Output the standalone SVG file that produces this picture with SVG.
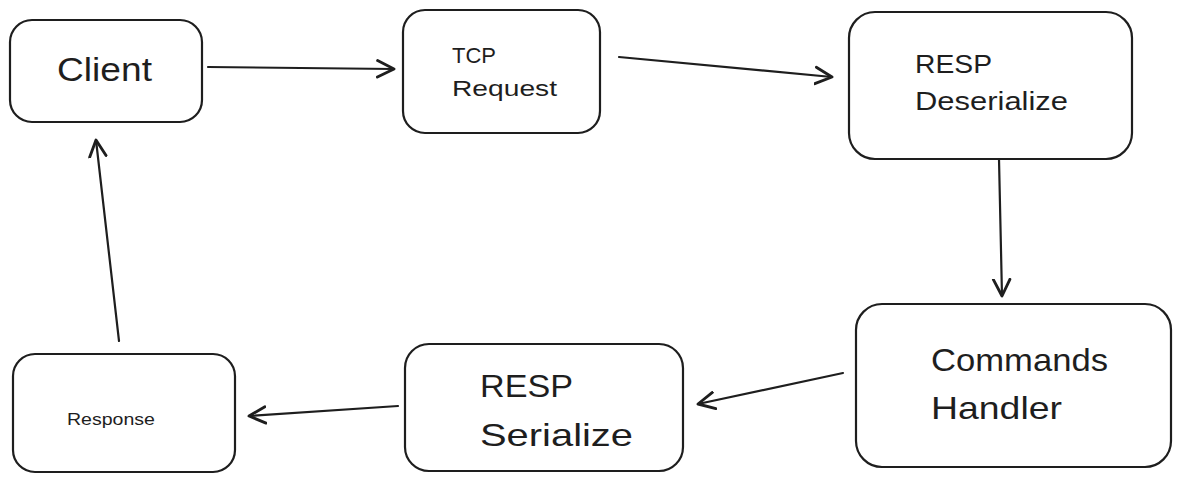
<svg xmlns="http://www.w3.org/2000/svg" width="1181" height="482" viewBox="0 0 1181 482">
<defs>
<style>
.box{fill:#fff;stroke:#1e1e1e;stroke-width:2.2}
.lbl{font-family:"Liberation Sans",Arial,sans-serif;fill:#1e1e1e}
.edge{fill:none;stroke:#1e1e1e;stroke-width:2.2;stroke-linecap:round}
</style>
<marker id="ah" markerUnits="userSpaceOnUse" markerWidth="22" markerHeight="22" refX="16" refY="10" orient="auto" viewBox="0 0 20 20">
<path d="M1,2.5 L16,10 L1,17.5" fill="none" stroke="#1e1e1e" stroke-width="2.6" stroke-linecap="round" stroke-linejoin="round"/>
</marker>
</defs>
<rect width="1181" height="482" fill="#fff"/>
<g id="client">
<rect class="box" x="10" y="20" width="192" height="102" rx="22"/>
<text class="lbl" x="57" y="81" font-size="33" textLength="95" lengthAdjust="spacingAndGlyphs">Client</text>
</g>
<g id="tcp-request">
<rect class="box" x="403" y="10" width="197" height="123" rx="22"/>
<text class="lbl" x="452" y="63" font-size="22">TCP</text>
<text class="lbl" x="452" y="96" font-size="22" textLength="105" lengthAdjust="spacingAndGlyphs">Request</text>
</g>
<g id="resp-deserialize">
<rect class="box" x="849" y="12" width="283" height="147" rx="26"/>
<text class="lbl" x="915" y="73" font-size="26" textLength="77" lengthAdjust="spacingAndGlyphs">RESP</text>
<text class="lbl" x="915" y="110" font-size="26" textLength="153" lengthAdjust="spacingAndGlyphs">Deserialize</text>
</g>
<g id="commands-handler">
<rect class="box" x="856" y="304" width="315" height="163" rx="26"/>
<text class="lbl" x="931" y="371" font-size="32" textLength="177" lengthAdjust="spacingAndGlyphs">Commands</text>
<text class="lbl" x="931" y="419" font-size="32" textLength="131" lengthAdjust="spacingAndGlyphs">Handler</text>
</g>
<g id="resp-serialize">
<rect class="box" x="405" y="344" width="278" height="127" rx="24"/>
<text class="lbl" x="480" y="397" font-size="32" textLength="93" lengthAdjust="spacingAndGlyphs">RESP</text>
<text class="lbl" x="480" y="446" font-size="32" textLength="153" lengthAdjust="spacingAndGlyphs">Serialize</text>
</g>
<g id="response">
<rect class="box" x="13" y="354" width="222" height="118" rx="22"/>
<text class="lbl" x="67" y="425" font-size="17" textLength="88" lengthAdjust="spacingAndGlyphs">Response</text>
</g>
<g id="connectors">
<path class="edge" marker-end="url(#ah)" d="M208,67 L394,69"/>
<path class="edge" marker-end="url(#ah)" d="M619,57 L832,77"/>
<path class="edge" marker-end="url(#ah)" d="M999,159 L1002,296"/>
<path class="edge" marker-end="url(#ah)" d="M843,373 L698,404"/>
<path class="edge" marker-end="url(#ah)" d="M398,406 L249,416"/>
<path class="edge" marker-end="url(#ah)" d="M119,341 L96,140"/>
</g>
</svg>
